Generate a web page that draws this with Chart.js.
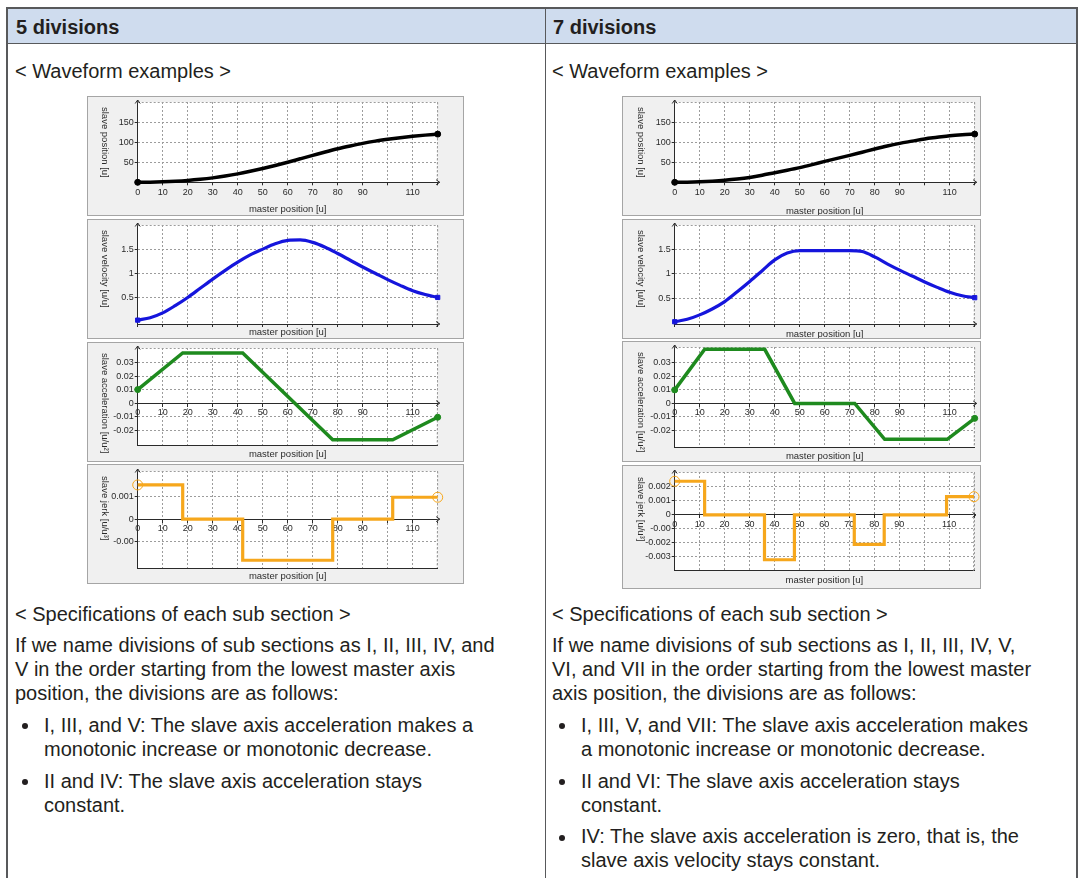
<!DOCTYPE html>
<html>
<head>
<meta charset="utf-8">
<script src="https://cdn.jsdelivr.net/npm/chart.js@4.4.0/dist/chart.umd.min.js"></script>
<style>
  html, body { margin: 0; padding: 0; background: #fff; }
  body { width: 1081px; height: 878px; position: relative; overflow: hidden;
         font-family: "Liberation Sans", Arial, sans-serif; color: #231f20; }
  .t { position: absolute; font-size: 20px; line-height: 24px; white-space: nowrap; }
  .b { font-weight: bold; }
  .dot { position: absolute; width: 6px; height: 6px; border-radius: 50%; background: #231f20; }
  .rule { position: absolute; background: #58595b; }
  .panel { position: absolute; background: #f0f0f0; border: 1px solid #a5a5a5; }
  .panel canvas { display: block; }
</style>
</head>
<body>

<!-- table frame -->
<div style="position:absolute;left:7px;top:8px;width:1069px;height:35px;background:#cfdcee"></div>
<div class="rule" style="left:6px;top:7px;width:1071px;height:1.5px"></div>
<div class="rule" style="left:6px;top:42.5px;width:1071px;height:1.5px"></div>
<div class="rule" style="left:6px;top:7px;width:1.5px;height:880px"></div>
<div class="rule" style="left:544.5px;top:7px;width:1.5px;height:880px"></div>
<div class="rule" style="left:1076px;top:7px;width:1.5px;height:880px"></div>

<div class="t b" style="left:16px;top:14.5px">5 divisions</div>
<div class="t b" style="left:553px;top:14.5px">7 divisions</div>
<div class="t" style="left:15px;top:58.5px">&lt; Waveform examples &gt;</div>
<div class="t" style="left:552px;top:58.5px">&lt; Waveform examples &gt;</div>

<!-- left text -->
<div class="t" style="left:15px;top:601.5px">&lt; Specifications of each sub section &gt;</div>
<div class="t" style="left:15px;top:632.5px">If we name divisions of sub sections as I, II, III, IV, and</div>
<div class="t" style="left:15px;top:657px">V in the order starting from the lowest master axis</div>
<div class="t" style="left:15px;top:681px">position, the divisions are as follows:</div>
<div class="dot" style="left:22px;top:723px"></div>
<div class="t" style="left:44px;top:712.5px">I, III, and V: The slave axis acceleration makes a</div>
<div class="t" style="left:44px;top:736.5px">monotonic increase or monotonic decrease.</div>
<div class="dot" style="left:22px;top:779px"></div>
<div class="t" style="left:44px;top:768.5px">II and IV: The slave axis acceleration stays</div>
<div class="t" style="left:44px;top:792.5px">constant.</div>

<!-- right text -->
<div class="t" style="left:552px;top:601.5px">&lt; Specifications of each sub section &gt;</div>
<div class="t" style="left:552px;top:632.5px">If we name divisions of sub sections as I, II, III, IV, V,</div>
<div class="t" style="left:552px;top:657px">VI, and VII in the order starting from the lowest master</div>
<div class="t" style="left:552px;top:681px">axis position, the divisions are as follows:</div>
<div class="dot" style="left:559px;top:723px"></div>
<div class="t" style="left:581px;top:712.5px">I, III, V, and VII: The slave axis acceleration makes</div>
<div class="t" style="left:581px;top:736.5px">a monotonic increase or monotonic decrease.</div>
<div class="dot" style="left:559px;top:779px"></div>
<div class="t" style="left:581px;top:768.5px">II and VI: The slave axis acceleration stays</div>
<div class="t" style="left:581px;top:792.5px">constant.</div>
<div class="dot" style="left:559px;top:834.5px"></div>
<div class="t" style="left:581px;top:824px">IV: The slave axis acceleration is zero, that is, the</div>
<div class="t" style="left:581px;top:848px">slave axis velocity stays constant.</div>

<script>
// master axis ticks shared by every plot
const xTicks = [0, 10, 20, 30, 40, 50, 60, 70, 80, 90, 100, 110, 120];
const xTickLabels = ["0", "10", "20", "30", "40", "50", "60", "70", "80", "90", "", "110", ""];

// sampled master positions for the smooth curves
const master = [0, 5, 10, 15, 20, 25, 30, 35, 40, 45, 50, 55, 60, 65, 70, 75, 80, 85, 90, 95, 100, 105, 110, 115, 120];

// 5 divisions
const pos5 = [0, 0.3, 1.2, 2.6, 4.6, 7.4, 11, 15.6, 21, 27.4, 34.4, 42, 50, 58.5, 67, 75.5, 83.5, 90.5, 97, 102.5, 107, 111, 114.5, 117.5, 120];
const vel5 = [0.03, 0.08, 0.18, 0.33, 0.5, 0.69, 0.88, 1.06, 1.23, 1.38, 1.5, 1.61, 1.68, 1.69, 1.64, 1.54, 1.41, 1.27, 1.13, 1.0, 0.87, 0.75, 0.64, 0.56, 0.5];
const acc5X = [0, 18, 42, 78, 102, 120];
const acc5 = [0.01, 0.037, 0.037, -0.027, -0.027, -0.0104];
const jerk5X = [0, 18, 42, 78, 102, 120];
const jerk5 = [0.0015, 0, -0.0018, 0, 0.00096, 0.00096];

// 7 divisions
const pos7 = [0, 0.3, 1.2, 2.8, 5, 8, 12, 17.5, 24, 30, 36.5, 44, 52, 59.5, 67, 75, 83, 90.5, 97, 102.5, 108, 112, 116, 118.5, 120];
const vel7 = [0.02, 0.07, 0.16, 0.28, 0.43, 0.63, 0.84, 1.06, 1.28, 1.42, 1.47, 1.47, 1.47, 1.47, 1.47, 1.45, 1.34, 1.2, 1.07, 0.95, 0.83, 0.72, 0.62, 0.55, 0.51];
const acc7X = [0, 12, 36, 48, 72, 84, 109, 120];
const acc7 = [0.01, 0.04, 0.04, 0, 0, -0.0265, -0.0265, -0.011];
const jerk7X = [0, 12, 36, 48, 72, 84, 109, 120];
const jerk7 = [0.0024, 0, -0.0032, 0, -0.0021, 0, 0.0013, 0.0013];

// y ticks
const posTicks = [50, 100, 150];
const posTickLabels = ["50", "100", "150"];
const velTicks = [0.5, 1, 1.5];
const velTickLabels = ["0.5", "1", "1.5"];
const accTicks = [0.03, 0.02, 0.01, 0, -0.01, -0.02];
const accTickLabels = ["0.03", "0.02", "0.01", "0", "-0.01", "-0.02"];
const jerk5Ticks = [0.001, 0, -0.001];
const jerk5TickLabels = ["0.001", "0", "-0.00"];
const jerk7Ticks = [0.002, 0.001, 0, -0.001, -0.002, -0.003];
const jerk7TickLabels = ["0.002", "0.001", "0", "-0.00", "-0.002", "-0.003"];

const tickFont = { family: "Liberation Sans", size: 9 };
const titleFont = { family: "Liberation Sans", size: 9.5 };
const gridColor = "#9c9c9c";
const axisColor = "#2a2a2a";

const panelDecor = {
  id: "panelDecor",
  beforeDraw(chart) {
    const { ctx, chartArea: a } = chart;
    ctx.save();
    ctx.fillStyle = "#fff";
    ctx.fillRect(a.left, a.top, a.right - a.left, a.bottom - a.top);
    ctx.restore();
  },
  beforeDatasetsDraw(chart) {
    const { ctx, chartArea: a } = chart;
    ctx.save();
    ctx.strokeStyle = gridColor;
    ctx.lineWidth = 1;
    ctx.setLineDash([2, 2]);
    ctx.beginPath();
    ctx.moveTo(a.left, a.top + 0.5);
    ctx.lineTo(a.right, a.top + 0.5);
    ctx.lineTo(a.right - 0.5, a.bottom);
    ctx.stroke();
    ctx.restore();
  },
  afterDraw(chart, args, opts) {
    const { ctx, chartArea: a } = chart;
    ctx.save();
    // axis arrows
    const ax = opts.zeroAxis ? chart.scales.y.getPixelForValue(0) : a.bottom;
    ctx.strokeStyle = axisColor;
    ctx.lineWidth = 1;
    ctx.beginPath();
    ctx.moveTo(a.left, a.top);
    ctx.lineTo(a.left, a.top - 2);
    ctx.moveTo(a.left - 2.5, a.top + 1.5);
    ctx.lineTo(a.left, a.top - 2);
    ctx.lineTo(a.left + 2.5, a.top + 1.5);
    ctx.moveTo(a.right, ax);
    ctx.lineTo(a.right + 2, ax);
    ctx.moveTo(a.right - 1.5, ax - 2.5);
    ctx.lineTo(a.right + 2, ax);
    ctx.lineTo(a.right - 1.5, ax + 2.5);
    ctx.stroke();
    // y title, turned clockwise
    ctx.translate(opts.titleX, a.top + 5);
    ctx.rotate(Math.PI / 2);
    ctx.fillStyle = axisColor;
    ctx.font = "9.5px 'Liberation Sans'";
    ctx.textAlign = "left";
    ctx.textBaseline = "middle";
    ctx.fillText(opts.yTitle, 0, 0);
    ctx.restore();
  }
};

function zeroPad(s) {
  s.paddingLeft = 0; s.paddingRight = 0; s.paddingTop = 0; s.paddingBottom = 0;
}

function addPanel(c) {
  const W = c.w - 2, H = c.h - 2;
  const div = document.createElement("div");
  div.className = "panel";
  div.style.left = c.x + "px";
  div.style.top = c.y + "px";
  div.style.width = W + "px";
  div.style.height = H + "px";
  const cv = document.createElement("canvas");
  cv.width = W;
  cv.height = H;
  div.appendChild(cv);
  document.body.appendChild(div);

  const last = c.xs.length - 1;
  const radius = c.xs.map((v, i) => (i === 0 || i === last ? c.markerR : 0));
  const xLabel = (v) => xTickLabels[xTicks.indexOf(v)];

  const scales = {
    x: {
      type: "linear", min: 0, max: 120, position: "bottom",
      afterBuildTicks: (s) => { s.ticks = xTicks.map((v) => ({ value: v })); },
      afterFit: (s) => { s.height = H - c.area.b; zeroPad(s); },
      ticks: { display: c.xMode === "bottom", font: tickFont, color: axisColor, padding: 2,
               maxRotation: 0, minRotation: 0, autoSkip: false, callback: xLabel },
      grid: { color: gridColor, drawTicks: c.xMode !== "zero", tickLength: 3, tickColor: axisColor },
      border: { color: axisColor, width: 1, dash: [2, 2] },
      title: { display: true, text: "master position [u]", font: titleFont, color: axisColor,
               padding: { top: 0, bottom: H - c.titleY - 5.7 } }
    },
    y: {
      type: "linear", min: c.yMin, max: c.yMax, position: "left",
      afterBuildTicks: (s) => { s.ticks = c.yTicks.map((v) => ({ value: v })); },
      afterFit: (s) => { s.width = c.area.l; zeroPad(s); },
      ticks: { font: tickFont, color: axisColor, padding: 1,
               callback: (v) => c.yLabels[c.yTicks.indexOf(v)] },
      grid: { color: gridColor, tickLength: 3, tickColor: axisColor },
      border: { color: axisColor, width: 1, dash: [2, 2] }
    }
  };
  if (c.xMode === "zero") {
    scales.x0 = {
      type: "linear", axis: "x", min: 0, max: 120, position: { y: 0 },
      afterBuildTicks: (s) => { s.ticks = xTicks.map((v) => ({ value: v })); },
      afterFit: (s) => { zeroPad(s); },
      ticks: { font: tickFont, color: axisColor, padding: 1, maxRotation: 0, minRotation: 0,
               autoSkip: false, callback: xLabel },
      grid: { drawOnChartArea: false, tickLength: 3, color: axisColor, tickColor: axisColor },
      border: { color: axisColor, width: 1 }
    };
  }

  new Chart(cv, {
    type: "line",
    data: {
      datasets: [{
        data: c.xs.map((x, i) => ({ x: x, y: c.ys[i] })),
        borderColor: c.color,
        backgroundColor: c.markerFill,
        borderWidth: c.lineW,
        cubicInterpolationMode: c.smooth ? "monotone" : "default",
        tension: 0,
        stepped: c.stepped ? "before" : false,
        pointRadius: radius,
        pointBorderColor: c.color,
        pointBorderWidth: 1,
        pointStyle: c.markerStyle,
        borderJoinStyle: "miter",
        clip: false
      }]
    },
    options: {
      responsive: false,
      animation: false,
      devicePixelRatio: 1,
      events: [],
      layout: { padding: { left: 0, top: c.area.t, right: W - c.area.r, bottom: 0 } },
      scales: scales,
      plugins: {
        legend: { display: false },
        tooltip: { enabled: false },
        panelDecor: { yTitle: c.yTitle, titleX: c.titleX, zeroAxis: c.xMode === "zero" }
      }
    },
    plugins: [panelDecor]
  });
}

// left column: 5 divisions
const L = { x: 87, w: 377, titleX: 17 };
addPanel({ ...L, y: 96, h: 120, area: { l: 49.7, r: 349.7, t: 4, b: 85.3 }, titleY: 112,
  yMin: 0, yMax: 200, yTicks: posTicks, yLabels: posTickLabels, yTitle: "slave position [u]",
  xMode: "bottom", xs: master, ys: pos5, color: "#000", lineW: 3.5, smooth: true,
  markerR: 3, markerFill: "#000", markerStyle: "circle" });
addPanel({ ...L, y: 219, h: 120, area: { l: 49.7, r: 349.7, t: 4, b: 104 }, titleY: 112,
  yMin: -0.05, yMax: 2.0, yTicks: velTicks, yLabels: velTickLabels, yTitle: "slave velocity [u/u]",
  xMode: "none", xs: master, ys: vel5, color: "#1515dc", lineW: 3.2, smooth: true,
  markerR: 3, markerFill: "#1515dc", markerStyle: "rect" });
addPanel({ ...L, y: 342, h: 120, area: { l: 49.7, r: 349.7, t: 3, b: 102.3 }, titleY: 111,
  yMin: -0.0311, yMax: 0.0407, yTicks: accTicks, yLabels: accTickLabels, yTitle: "slave acceleration [u/u²]",
  xMode: "zero", xs: acc5X, ys: acc5, color: "#1e8a1e", lineW: 3.5,
  markerR: 3, markerFill: "#1e8a1e", markerStyle: "circle" });
addPanel({ ...L, y: 464, h: 120, area: { l: 49.7, r: 349.7, t: 3.7, b: 103 }, titleY: 111,
  yMin: -0.00214, yMax: 0.00211, yTicks: jerk5Ticks, yLabels: jerk5TickLabels, yTitle: "slave jerk [u/u³]",
  xMode: "zero", xs: jerk5X, ys: jerk5, color: "#f6a71c", lineW: 3.2, stepped: true,
  markerR: 5, markerFill: "rgba(0,0,0,0)", markerStyle: "circle" });

// right column: 7 divisions
const R = { x: 622, w: 359, titleX: 18 };
addPanel({ ...R, y: 96, h: 120, area: { l: 51.7, r: 351.7, t: 4, b: 85.3 }, titleY: 114,
  yMin: 0, yMax: 200, yTicks: posTicks, yLabels: posTickLabels, yTitle: "slave position [u]",
  xMode: "bottom", xs: master, ys: pos7, color: "#000", lineW: 3.5, smooth: true,
  markerR: 3, markerFill: "#000", markerStyle: "circle" });
addPanel({ ...R, y: 219, h: 120, area: { l: 51.7, r: 351.7, t: 4.7, b: 104 }, titleY: 114,
  yMin: -0.026, yMax: 1.99, yTicks: velTicks, yLabels: velTickLabels, yTitle: "slave velocity [u/u]",
  xMode: "none", xs: master, ys: vel7, color: "#1515dc", lineW: 3.2, smooth: true,
  markerR: 3, markerFill: "#1515dc", markerStyle: "rect" });
addPanel({ ...R, y: 341, h: 121, area: { l: 51.7, r: 351.7, t: 4.7, b: 105.3 }, titleY: 114.5,
  yMin: -0.0324, yMax: 0.0417, yTicks: accTicks, yLabels: accTickLabels, yTitle: "slave acceleration [u/u²]",
  xMode: "zero", xs: acc7X, ys: acc7, color: "#1e8a1e", lineW: 3.5,
  markerR: 3, markerFill: "#1e8a1e", markerStyle: "circle" });
addPanel({ ...R, y: 465, h: 124, area: { l: 51.7, r: 351.7, t: 5, b: 104.7 }, titleY: 114,
  yMin: -0.00398, yMax: 0.00306, yTicks: jerk7Ticks, yLabels: jerk7TickLabels, yTitle: "slave jerk [u/u³]",
  xMode: "zero", xs: jerk7X, ys: jerk7, color: "#f6a71c", lineW: 3.2, stepped: true,
  markerR: 5, markerFill: "rgba(0,0,0,0)", markerStyle: "circle" });
</script>
</body>
</html>
